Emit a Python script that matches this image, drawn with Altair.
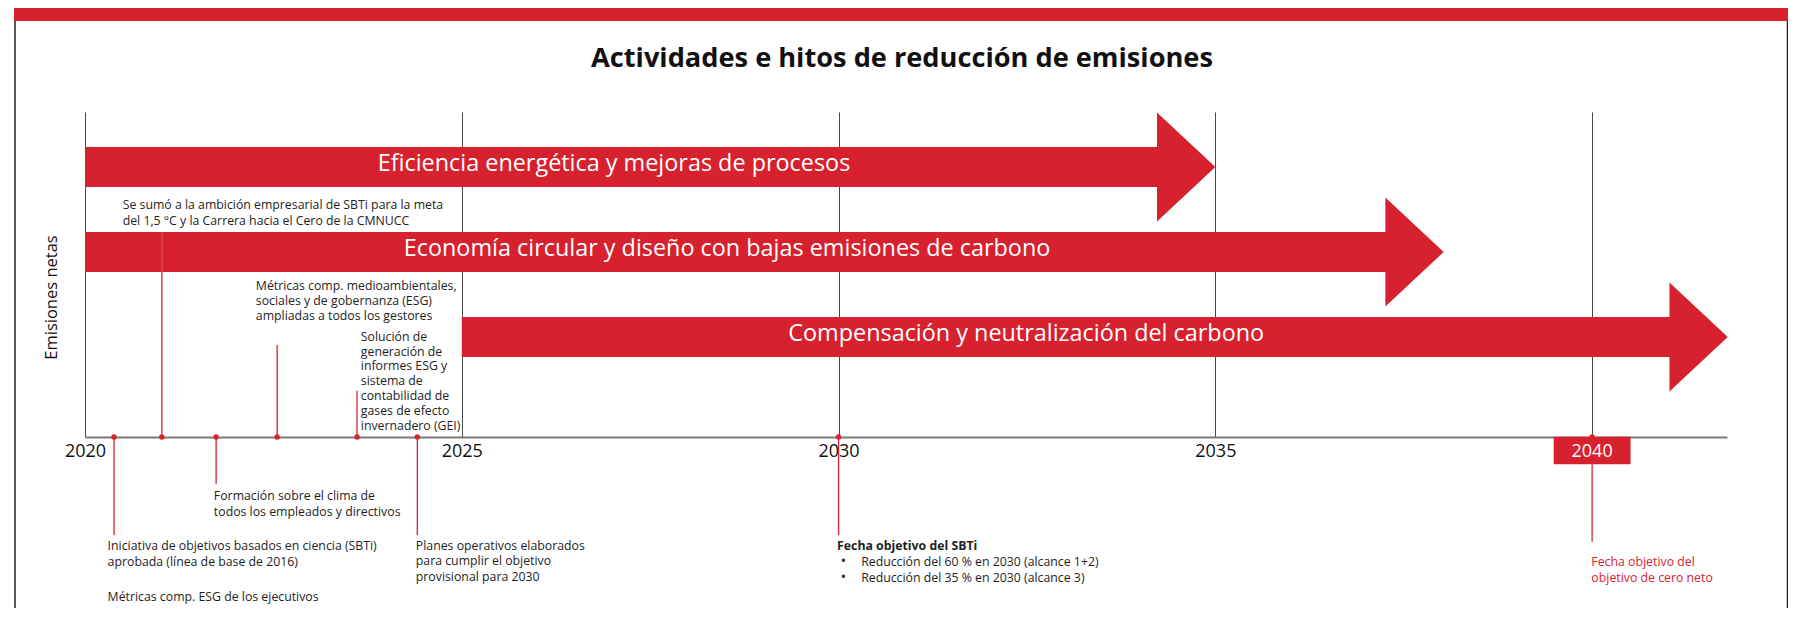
import altair as alt
import pandas as pd

RED = "#D8212F"
INK = "#1e1e1e"
FONT = "Open Sans"

# ---------------- data ----------------
tick_years = [2020, 2025, 2030, 2035, 2040]

chart_title = "Actividades e hitos de reducción de emisiones"

stream_names = [
    "Eficiencia energética y mejoras de procesos",
    "Economía circular y diseño con bajas emisiones de carbono",
    "Compensación y neutralización del carbono",
]
stream_start = [2020, 2020, 2025]
stream_tip = [2035, 2038.03, 2041.8]
stream_label_at = [2027.02, 2028.52, 2032.49]

milestone_years = [2020.385, 2021.02, 2021.74, 2022.55, 2023.61, 2024.41, 2030, 2040]
milestone_texts = [
    ["Iniciativa de objetivos basados en ciencia (SBTi)", "aprobada (línea de base de 2016)"],
    ["Se sumó a la ambición empresarial de SBTi para la meta",
     "del 1,5 °C y la Carrera hacia el Cero de la CMNUCC"],
    ["Formación sobre el clima de", "todos los empleados y directivos"],
    ["Métricas comp. medioambientales,", "sociales y de gobernanza (ESG)",
     "ampliadas a todos los gestores"],
    ["Solución de", "generación de", "informes ESG y", "sistema de",
     "contabilidad de", "gases de efecto", "invernadero (GEI)"],
    ["Planes operativos elaborados", "para cumplir el objetivo", "provisional para 2030"],
    ["Fecha objetivo del SBTi"],
    ["Fecha objetivo del", "objetivo de cero neto"],
]
exec_note = ["Métricas comp. ESG de los ejecutivos"]
sbti_targets = ["Reducción del 60 % en 2030 (alcance 1+2)",
                "Reducción del 35 % en 2030 (alcance 3)"]
net_zero_year = 2040

# ---------------- layout ----------------
X_DOMAIN = [2020, 2041.79]
Y_DOMAIN = [0, 325]
lane_level = [270, 185, 100]
BODY_HALF = 20
HEAD_PX = 109                      # arrow-head height in px (symbol size = HEAD_PX**2)
HEAD_LEN = 0.775                   # arrow-head length in years
HEAD_SHAPE = "M-1.07,-1L0,0L-1.07,1Z"
stem_from = [0, 0, 0, 0, 0, 0, 0, -27.3]
stem_to = [-98, 205, -47, 92, 46.3, -98, -98, -104.7]
label_at = [2020.30, 2020.50, 2021.71, 2022.267, 2023.66, 2024.39, 2029.98, 2039.99]
label_level = [-113.2, 228.5, -63.2, 146.8, 96.2, -113.2, -113.2, -128.8]
label_lh = [15.6, 16.5, 16, 15, 14.8, 15.3, 16, 16]
label_bold = [False] * 6 + [True, False]
label_color = [INK] * 7 + [RED]
BOX_HALF = 0.51

x_axis = alt.Axis(
    values=tick_years, format="d", title=None,
    labelExpr="datum.value == 2040 ? '' : datum.label",
    grid=True, gridColor="#4a4a4a", gridWidth=1,
    ticks=False, tickSize=0,
    domainColor="#7a7a7a", domainWidth=2,
    labelFont=FONT, labelFontSize=18, labelColor="#111",
    labelPadding=5, labelFlush=False, labelBound=False, labelOverlap=False,
)
y_axis = alt.Axis(
    title="Emisiones netas", labels=False, ticks=False, domain=False, grid=False,
    titleFont=FONT, titleFontSize=16.5, titleFontWeight="normal", titleColor="#111",
    titleX=-34, titleY=185, titleBaseline="middle", titleAngle=270,
)
XS = alt.Scale(domain=X_DOMAIN, nice=False, zero=False)
YS = alt.Scale(domain=Y_DOMAIN, nice=False, zero=False)


def X(f):
    return alt.X(f, type="quantitative", scale=XS, axis=x_axis)


def Y(f):
    return alt.Y(f, type="quantitative", scale=YS, axis=y_axis, stack=False)


# arrows: body + head
body_df = pd.DataFrame({
    "x": stream_start,
    "x2": [t - HEAD_LEN + 0.01 for t in stream_tip],
    "y": [c + BODY_HALF for c in lane_level],
    "y2": [c - BODY_HALF for c in lane_level],
})
bodies = alt.Chart(body_df).mark_rect(color=RED).encode(
    x=X("x"), x2=alt.X2("x2"), y=Y("y"), y2=alt.Y2("y2"))

head_df = pd.DataFrame({"x": stream_tip, "y": lane_level})
heads = alt.Chart(head_df).mark_point(
    shape=HEAD_SHAPE, size=HEAD_PX ** 2, filled=True, color=RED, opacity=1,
    strokeWidth=0).encode(x=X("x"), y=Y("y"))

stream_df = pd.DataFrame({"x": stream_label_at, "y": lane_level, "t": stream_names})
stream_text = alt.Chart(stream_df).mark_text(
    color="white", font=FONT, fontSize=23.4, align="center", baseline="alphabetic",
    dy=3.5).encode(x=X("x"), y=Y("y"), text="t:N")

stems_df = pd.DataFrame({"x": milestone_years, "y": stem_from, "y2": stem_to})
stems = alt.Chart(stems_df).mark_rule(color=RED, strokeWidth=1.3).encode(
    x=X("x"), y=Y("y"), y2=alt.Y2("y2"))

cross_df = pd.DataFrame({"x": [milestone_years[1]],
                         "y": [lane_level[1] - BODY_HALF], "y2": [lane_level[1] + BODY_HALF]})
cross = alt.Chart(cross_df).mark_rule(color="#F3B1B6", strokeWidth=1.2).encode(
    x=X("x"), y=Y("y"), y2=alt.Y2("y2"))

dots_df = pd.DataFrame({"x": milestone_years, "y": [0] * len(milestone_years)})
dots = alt.Chart(dots_df).mark_circle(color=RED, size=30, opacity=1).encode(x=X("x"), y=Y("y"))

box_df = pd.DataFrame({"x": [net_zero_year - BOX_HALF], "x2": [net_zero_year + BOX_HALF],
                       "xc": [net_zero_year],
                       "y": [0.3], "y2": [-27.3], "t": [str(net_zero_year)], "ym": [-15]})
box = alt.Chart(box_df).mark_rect(color=RED).encode(
    x=X("x"), x2=alt.X2("x2"), y=Y("y"), y2=alt.Y2("y2"))
box_label = alt.Chart(box_df).mark_text(
    color="white", font=FONT, fontSize=18, align="center", baseline="middle").encode(
    x=X("xc"), y=Y("ym"), text="t:N")

layers = [bodies, heads, stream_text, cross, stems, dots, box, box_label]

for i in range(len(milestone_texts)):
    df = pd.DataFrame({"x": [label_at[i]], "y": [label_level[i]], "t": [milestone_texts[i]]})
    layers.append(alt.Chart(df).mark_text(
        font=FONT, fontSize=12.3, align="left", baseline="alphabetic",
        lineHeight=label_lh[i], color=label_color[i],
        fontWeight="bold" if label_bold[i] else "normal").encode(
        x=X("x"), y=Y("y"), text="t"))

note_df = pd.DataFrame({"x": [label_at[0]], "y": [-164.2], "t": [exec_note]})
layers.append(alt.Chart(note_df).mark_text(
    font=FONT, fontSize=12.3, align="left", baseline="alphabetic", color=INK).encode(
    x=X("x"), y=Y("y"), text="t"))

bul_df = pd.DataFrame({"x": [2030.03], "y": [-128.8], "t": [["•"] * len(sbti_targets)]})
layers.append(alt.Chart(bul_df).mark_text(
    font=FONT, fontSize=14, align="left", baseline="alphabetic", lineHeight=16,
    color=INK).encode(x=X("x"), y=Y("y"), text="t"))
tgt_df = pd.DataFrame({"x": [2030.30], "y": [-128.8], "t": [sbti_targets]})
layers.append(alt.Chart(tgt_df).mark_text(
    font=FONT, fontSize=12.3, align="left", baseline="alphabetic", lineHeight=16,
    color=INK).encode(x=X("x"), y=Y("y"), text="t"))

# title and frame (decoration)
one = pd.DataFrame({"t": [chart_title]})
title = alt.Chart(one).mark_text(
    font=FONT, fontSize=27.2, fontWeight="bold", color="#111", align="center",
    baseline="alphabetic").encode(x=alt.value(817), y=alt.value(-45), text="t:N")
frame_top = alt.Chart(one).mark_rect(color=RED).encode(
    x=alt.value(-71), x2=alt.value(1703), y=alt.value(-104), y2=alt.value(-91))
frame_left = alt.Chart(one).mark_rule(color="#222", strokeWidth=1.5).encode(
    x=alt.value(-70), y=alt.value(-91), y2=alt.value(496))
frame_right = alt.Chart(one).mark_rule(color="#222", strokeWidth=1.5).encode(
    x=alt.value(1702.5), y=alt.value(-91), y2=alt.value(496))
layers += [title, frame_top, frame_left, frame_right]

chart = alt.layer(*layers).properties(
    width=1642, height=325,
    autosize=alt.AutoSizeParams(type="none"),
    padding={"left": 77, "top": 104, "right": 61, "bottom": 171},
).configure(background="white").configure_view(strokeWidth=0, stroke="transparent")

chart.save("out.html", embed_options={"renderer": "svg", "actions": False})
